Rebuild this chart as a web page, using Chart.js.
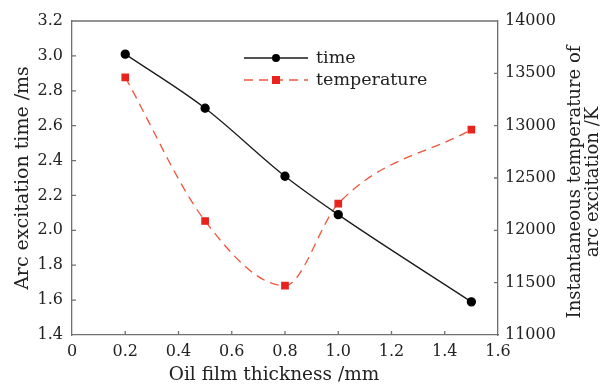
<!DOCTYPE html>
<html>
<head>
<meta charset="utf-8">
<script src="https://cdn.jsdelivr.net/npm/chart.js@4.4.1/dist/chart.umd.min.js"></script>
<style>
  html, body { margin: 0; padding: 0; background: #fff; }
  #wrap { width: 607px; height: 384px; }
</style>
</head>
<body>
<div id="wrap"><canvas id="chart"></canvas></div>
<script>
// values
var thickness = [0.2, 0.5, 0.8, 1.0, 1.5];
var arcTime = [3.01, 2.70, 2.31, 2.09, 1.59];
var arcTemp = [13462, 12089, 11471, 12255, 12962];

var xTitle = 'Oil film thickness /mm';
var leftTitle = 'Arc excitation time /ms';
var rightTitle = ['Instantaneous temperature of', 'arc excitation /K'];
var seriesNames = ['time', 'temperature'];

var serif = "'DejaVu Serif', 'Liberation Serif', serif";
var textColor = '#222';
var frameColor = '#707070';

function points(xs, ys) {
    var out = [];
    for (var i = 0; i < xs.length; i++) {
        out.push({x: xs[i], y: ys[i]});
    }
    return out;
}

// inward ticks, top border, x and right titles, legend inside the plot
var extras = {
    id: 'extras',
    afterDraw: function (chart) {
        var ctx = chart.ctx;
        var a = chart.chartArea;
        var sx = chart.scales.x, sy = chart.scales.y, sr = chart.scales.y1;
        ctx.save();
        ctx.strokeStyle = frameColor;
        ctx.lineWidth = 1.3;
        ctx.beginPath();
        ctx.moveTo(a.left, a.top);
        ctx.lineTo(a.right, a.top);
        sx.ticks.forEach(function (t) {
            var p = sx.getPixelForValue(t.value);
            if (p > a.left + 2 && p < a.right - 2) {
                ctx.moveTo(p, a.bottom);
                ctx.lineTo(p, a.bottom - 4);
            }
        });
        sy.ticks.forEach(function (t) {
            var p = sy.getPixelForValue(t.value);
            if (p > a.top + 2 && p < a.bottom - 2) {
                ctx.moveTo(a.left, p);
                ctx.lineTo(a.left + 4, p);
            }
        });
        sr.ticks.forEach(function (t) {
            var p = sr.getPixelForValue(t.value);
            if (p > a.top + 2 && p < a.bottom - 2) {
                ctx.moveTo(a.right, p);
                ctx.lineTo(a.right - 4, p);
            }
        });
        ctx.stroke();

        ctx.fillStyle = textColor;
        ctx.textAlign = 'center';
        ctx.textBaseline = 'middle';

        // x title, sits a little left of the plot centre in the figure
        ctx.font = '18.5px ' + serif;
        ctx.fillText(xTitle, (a.left + a.right) / 2 - 11, a.bottom + 40);

        // right axis title, reads bottom to top
        ctx.font = '18px ' + serif;
        var cy = (a.top + a.bottom) / 2 + 4;
        for (var i = 0; i < rightTitle.length; i++) {
            ctx.save();
            ctx.translate(a.right + 77 + i * 18, cy);
            ctx.rotate(-Math.PI / 2);
            ctx.fillText(rightTitle[i], 0, 0);
            ctx.restore();
        }

        // legend
        var lx0 = a.left + 172, lx1 = a.left + 236, tx = a.left + 244;
        var rows = [a.top + 37, a.top + 59];
        ctx.font = '17.5px ' + serif;
        chart.data.datasets.forEach(function (ds, k) {
            var y = rows[k];
            ctx.save();
            ctx.strokeStyle = ds.borderColor;
            ctx.lineWidth = ds.borderWidth;
            ctx.setLineDash(ds.borderDash || []);
            ctx.beginPath();
            ctx.moveTo(lx0, y);
            ctx.lineTo(lx1, y);
            ctx.stroke();
            ctx.setLineDash([]);
            ctx.fillStyle = ds.pointBackgroundColor;
            var mx = (lx0 + lx1) / 2;
            if (ds.pointStyle === 'rect') {
                ctx.fillRect(mx - 4, y - 4, 8, 8);
            } else {
                ctx.beginPath();
                ctx.arc(mx, y, 4, 0, Math.PI * 2);
                ctx.fill();
            }
            ctx.restore();
            ctx.fillStyle = textColor;
            ctx.textAlign = 'left';
            ctx.fillText(ds.label, tx, y);
        });
        ctx.restore();
    }
};

new Chart(document.getElementById('chart'), {
    type: 'line',
    data: {
        datasets: [
            {
                label: seriesNames[0],
                data: points(thickness, arcTime),
                yAxisID: 'y',
                borderColor: '#1a1a1a',
                borderWidth: 1.3,
                pointStyle: 'circle',
                pointRadius: 4,
                pointBackgroundColor: '#000',
                pointBorderColor: '#000',
                cubicInterpolationMode: 'monotone'
            },
            {
                label: seriesNames[1],
                data: points(thickness, arcTemp),
                yAxisID: 'y1',
                borderColor: '#f0553c',
                borderWidth: 1.3,
                borderDash: [9, 6],
                pointStyle: 'rect',
                pointRadius: 4.5,
                pointBackgroundColor: '#e8231e',
                pointBorderColor: '#e8231e',
                cubicInterpolationMode: 'monotone'
            }
        ]
    },
    options: {
        responsive: true,
        maintainAspectRatio: false,
        animation: false,
        layout: {padding: {top: 21, left: 0, right: 0, bottom: 0}},
        plugins: {
            legend: {display: false},
            tooltip: {enabled: false}
        },
        scales: {
            x: {
                type: 'linear',
                position: 'bottom',
                min: 0,
                max: 1.6,
                grid: {display: false, drawTicks: false},
                border: {display: true, color: frameColor, width: 1.3},
                ticks: {
                    stepSize: 0.2,
                    padding: 7,
                    color: textColor,
                    font: {family: serif, size: 16},
                    callback: function (v) { return v === 0 ? '0' : v.toFixed(1); }
                },
                afterFit: function (s) { s.height = 49; }
            },
            y: {
                position: 'left',
                min: 1.4,
                max: 3.2,
                grid: {display: false, drawTicks: false},
                border: {display: true, color: frameColor, width: 1.3},
                ticks: {
                    stepSize: 0.2,
                    padding: 9,
                    color: textColor,
                    font: {family: serif, size: 16},
                    callback: function (v) { return v.toFixed(1); }
                },
                title: {
                    display: true,
                    text: leftTitle,
                    color: textColor,
                    font: {family: serif, size: 19},
                    padding: {top: 12, bottom: 4}
                },
                afterFit: function (s) { s.width = 72; }
            },
            y1: {
                position: 'right',
                min: 11000,
                max: 14000,
                grid: {display: false, drawTicks: false},
                border: {display: true, color: frameColor, width: 1.3},
                ticks: {
                    stepSize: 500,
                    padding: 7,
                    color: textColor,
                    font: {family: serif, size: 16},
                    callback: function (v) { return String(v); }
                },
                afterFit: function (s) { s.width = 109; }
            }
        }
    },
    plugins: [extras]
});
</script>
</body>
</html>
